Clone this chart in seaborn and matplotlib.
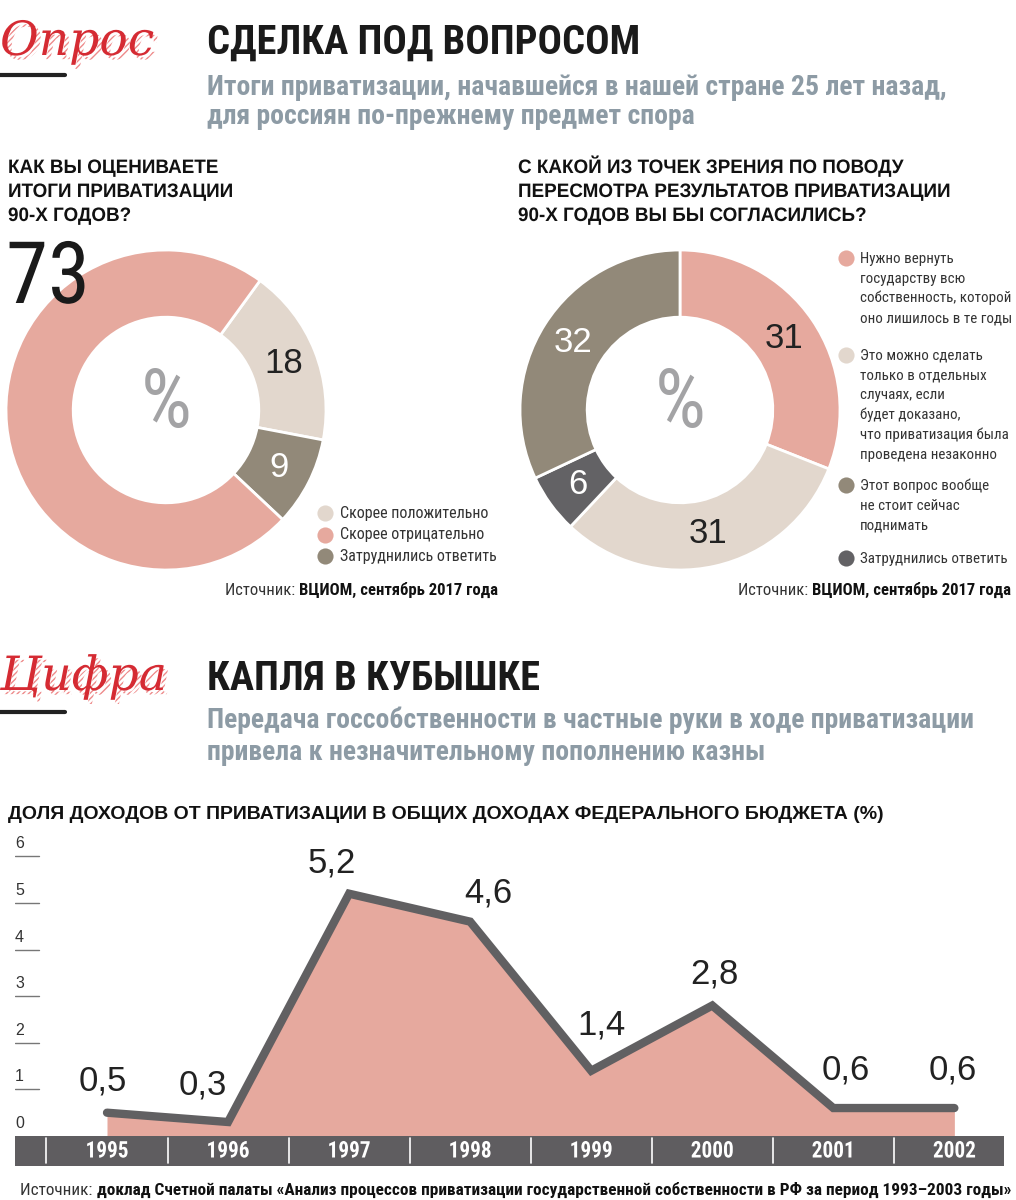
import numpy as np
import pandas as pd
import seaborn as sns
import matplotlib.pyplot as plt
from matplotlib import patheffects as pe
from matplotlib import font_manager
from matplotlib.text import Text
from matplotlib.transforms import Affine2D, Bbox

# ---- data ----
q1_labels = ["Скорее положительно", "Скорее отрицательно", "Затруднились ответить"]
q1_values = [18, 73, 9]

q2_labels = [
    ["Нужно вернуть", "государству всю", "собственность, которой", "оно лишилось в те годы"],
    ["Это можно сделать", "только в отдельных", "случаях, если", "будет доказано,",
     "что приватизация была", "проведена незаконно"],
    ["Этот вопрос вообще", "не стоит сейчас", "поднимать"],
    ["Затруднились ответить"],
]
q2_values = [31, 31, 32, 6]

years = [1995, 1996, 1997, 1998, 1999, 2000, 2001, 2002]
share = [0.5, 0.3, 5.2, 4.6, 1.4, 2.8, 0.6, 0.6]
y_ticks = [0, 1, 2, 3, 4, 5, 6]

# ---- style ----
PINK = "#e6a99e"
BEIGE = "#e2d7cd"
BROWN = "#928979"
DARK = "#636265"
LINE = "#616062"
GREY_TXT = "#8d9ba5"
RED = "#d52b33"
TXT = "#222222"

sns.set_theme(style="white")
SANS = ["Liberation Sans", "DejaVu Sans"]
plt.rcParams["font.family"] = SANS
installed = {f.name for f in font_manager.fontManager.ttflist}
NARROW = (["Roboto Condensed"] if "Roboto Condensed" in installed else []) + SANS

W, H = 1016, 1200
fig = plt.figure(figsize=(W / 100, H / 100), dpi=100)
fig.patch.set_facecolor("white")

ANCHOR = {"left": 0.0, "center": 0.5, "right": 1.0}


class Squeeze(pe.AbstractPathEffect):
    """Draw text horizontally condensed to the width of the original."""

    def __init__(self, sx, anchor=0.0):
        super().__init__()
        self.sx, self.anchor = sx, anchor

    def draw_path(self, renderer, gc, tpath, affine, rgbFace=None):
        ext = tpath.get_extents()
        cx = 0 if self.anchor == 0 else ext.x0 + self.anchor * ext.width
        tr = Affine2D().translate(-cx, 0).scale(self.sx, 1).translate(cx, 0) + affine
        renderer.draw_path(gc, tpath, tr, rgbFace)


class NarrowText(Text):
    def __init__(self, x, y, s, sx=1.0, **kw):
        super().__init__(x, y, s, **kw)
        self.sx = sx
        if abs(sx - 1) > 0.01:
            self.set_path_effects([Squeeze(sx, ANCHOR[self.get_horizontalalignment()])])

    def get_window_extent(self, renderer=None, dpi=None):
        bb = super().get_window_extent(renderer, dpi)
        a = ANCHOR[self.get_horizontalalignment()]
        xa = bb.x0 + a * bb.width
        return Bbox([[xa - a * bb.width * self.sx, bb.y0],
                     [xa + (1 - a) * bb.width * self.sx, bb.y1]])


def put(target, x, y, s, sx=1.0, ha="left", va="baseline", **kw):
    t = NarrowText(x, y, s, sx=sx, ha=ha, va=va, **kw)
    target.add_artist(t)
    return t


def box(x0, y0, x1, y1):
    return [x0 / W, 1 - y1 / H, (x1 - x0) / W, (y1 - y0) / H]


# ---- texts layer (pixel coordinates) ----
bg = fig.add_axes([0, 0, 1, 1], zorder=10)
bg.set_xlim(0, W)
bg.set_ylim(H, 0)
bg.axis("off")
rend = fig.canvas.get_renderer()


def width_of(s, **kw):
    t = bg.text(0, 0, s, **kw)
    w = t.get_window_extent(rend).width
    t.remove()
    return w


def fit(s, target, **kw):
    return target / width_of(s, **kw)


def sized(style, s, target):
    # shrink the font (not the glyphs) so the line keeps inside its width
    st = dict(style)
    st["fontsize"] = style["fontsize"] * min(1.0, fit(s, target, **style))
    return st


# ---- donuts ----
def donut(rect, values, colors, order, start, label_colors, hide=()):
    ax = fig.add_axes(rect)
    vals = [values[i] for i in order]
    cols = [colors[i] for i in order]
    wedges, _, autotexts = ax.pie(
        vals, colors=cols, startangle=start, counterclock=False,
        autopct=lambda p: f"{round(p)}", pctdistance=0.79,
        wedgeprops=dict(width=0.42, edgecolor="white", linewidth=2),
        textprops=dict(fontsize=25),
    )
    for t, i in zip(autotexts, order):
        t.set_color(label_colors[i])
        if i in hide:
            t.set_visible(False)
    ax.set_xlim(-1, 1)
    ax.set_ylim(-1, 1)
    pct = dict(fontsize=58, color="#a3a3a5", family=NARROW)
    put(ax, 0, 0.03, "%", min(1.0, fit("%", 58, **pct)), ha="center", va="center", **pct)
    return ax


q1_colors = [BEIGE, PINK, BROWN]
donut(box(6, 250, 326, 570), q1_values, q1_colors, [0, 2, 1], 54,
      [TXT, TXT, "white"], hide=(1,))

q2_colors = [PINK, BEIGE, BROWN, DARK]
donut(box(520, 250, 840, 570), q2_values, q2_colors, [0, 1, 3, 2], 90,
      [TXT, TXT, "white", "white"])

# ---- area / line chart ----
ax = fig.add_axes(box(15, 830, 1004, 1166))
df = pd.DataFrame({"year": years, "share": share})
ymin, ymax = -0.644, 6.567
ax.fill_between(df["year"], 0, df["share"], color=PINK, lw=0, zorder=1)
sns.lineplot(data=df, x="year", y="share", color=LINE, linewidth=6,
             solid_capstyle="round", solid_joinstyle="miter", ax=ax, zorder=3)
ax.set_xlim(1994.24, 2002.41)
ax.set_ylim(ymin, ymax)
ax.axis("off")
ax.axhspan(ymin, 0, color="#5f5d60", lw=0, zorder=2)
YEAR = dict(fontsize=16.5, fontweight="bold", color="white", family=NARROW)
sx_y = min(1.0, fit("1995", 43, **YEAR))
for yr in years:
    ax.plot([yr - 0.5, yr - 0.5], [ymin + 0.06, -0.04], color="white", lw=1.2, zorder=4)
    put(ax, yr, ymin / 2, str(yr), sx_y, ha="center", va="center", zorder=5, **YEAR)

ytr = ax.get_yaxis_transform()
for v in y_ticks:
    ax.annotate(str(v), (0.0, v), xycoords=ytr, xytext=(0, 5),
                textcoords="offset pixels", ha="left", va="bottom",
                fontsize=11.5, color="#333333", annotation_clip=False)
    if v > 0:
        ax.plot([0.0, 0.024], [v, v], transform=ytr, color="#777777", lw=1)

label_offsets = [(-4, 32), (-25, 37), (-17, 31), (18, 29), (10, 46), (2, 32), (12, 38), (-2, 38)]
for yr, v, (dx, dy) in zip(years, share, label_offsets):
    ax.annotate(f"{v:.1f}".replace(".", ","), (yr, v), xytext=(dx, dy),
                textcoords="offset pixels", ha="center", va="center",
                fontsize=25, color=TXT, zorder=6)

# ---- headers, legends, sources ----
TITLE = dict(fontsize=30, fontweight="bold", color="#1a1a1a", family=NARROW)
SUB = dict(fontsize=20, fontweight="bold", color=GREY_TXT, family=NARROW)
LEG = dict(fontsize=12.5, color="#333333", family=NARROW)
RLEG = dict(fontsize=12, color="#333333", family=NARROW)
QUEST = dict(fontsize=14, fontweight="bold", color="#111111")

logo_fx = [pe.PathPatchEffect(offset=(3, -3), hatch="//////", facecolor="none",
                              edgecolor="#ee8a8a", linewidth=0), pe.Normal()]
bg.text(0, 55, "Опрос", fontsize=34, family="DejaVu Serif", style="italic",
        color=RED, va="baseline", path_effects=logo_fx)
bg.plot([0, 65], [75, 75], color="#222222", lw=3)
bg.text(0, 690, "Цифра", fontsize=34, family="DejaVu Serif", style="italic",
        color=RED, va="baseline", path_effects=logo_fx)
bg.plot([0, 65], [712, 712], color="#222222", lw=3)

TITLE = sized(TITLE, "СДЕЛКА ПОД ВОПРОСОМ", 433)
sx_t = min(1.0, fit("СДЕЛКА ПОД ВОПРОСОМ", 433, **TITLE))
put(bg, 207, 54, "СДЕЛКА ПОД ВОПРОСОМ", sx_t, **TITLE)
sub1 = "Итоги приватизации, начавшейся в нашей стране 25 лет назад,"
SUB = sized(SUB, sub1, 748)
put(bg, 207, 95, sub1, **SUB)
put(bg, 207, 124, "для россиян по-прежнему предмет спора", **SUB)

put(bg, 207, 690, "КАПЛЯ В КУБЫШКЕ", sx_t, **TITLE)
put(bg, 207, 728, "Передача госсобственности в частные руки в ходе приватизации", **SUB)
put(bg, 207, 760, "привела к незначительному пополнению казны", **SUB)

for i, line in enumerate(["КАК ВЫ ОЦЕНИВАЕТЕ", "ИТОГИ ПРИВАТИЗАЦИИ", "90-Х ГОДОВ?"]):
    put(bg, 8, 173 + 24 * i, line, 0.97, **QUEST)
for i, line in enumerate(["С КАКОЙ ИЗ ТОЧЕК ЗРЕНИЯ ПО ПОВОДУ",
                          "ПЕРЕСМОТРА РЕЗУЛЬТАТОВ ПРИВАТИЗАЦИИ",
                          "90-Х ГОДОВ ВЫ БЫ СОГЛАСИЛИСЬ?"]):
    put(bg, 518, 173 + 24 * i, line, 0.97, **QUEST)

BIG = dict(fontsize=62, color="#1a1a1a", family=NARROW)
put(bg, 6, 303, str(q1_values[1]), min(1.0, fit(str(q1_values[1]), 84, **BIG)), **BIG)

LEG = sized(LEG, "Затруднились ответить", 157)
for i, (lab, col) in enumerate(zip(q1_labels, q1_colors)):
    y = 513 + 21.5 * i
    bg.scatter([325], [y], s=135, color=col, lw=0)
    put(bg, 340, y + 5, lab, **LEG)

RLEG = sized(RLEG, "собственность, которой", 150)
legend_y = [258, 355, 485, 558]
for lines, col, y0 in zip(q2_labels, q2_colors, legend_y):
    bg.scatter([846], [y0], s=135, color=col, lw=0)
    for j, line in enumerate(lines):
        put(bg, 860, y0 + 5 + 19.7 * j, line, **RLEG)


def source(x_right, y, bold_part, size, width):
    norm = dict(fontsize=size, color="#333333", family=NARROW)
    bold = dict(fontsize=size, fontweight="bold", color="#111111", family=NARROW)
    w1 = width_of("Источник: ", **norm)
    w2 = width_of(bold_part, **bold)
    k = min(1.0, width / (w1 + w2))
    norm["fontsize"] = bold["fontsize"] = size * k
    x0 = x_right - (w1 + w2) * k
    put(bg, x0, y, "Источник: ", **norm)
    put(bg, x0 + w1 * k, y, bold_part, **bold)


source(497, 595, "ВЦИОМ, сентябрь 2017 года", 12.5, 272)
source(1010, 595, "ВЦИОМ, сентябрь 2017 года", 12.5, 272)

put(bg, 8, 819, "ДОЛЯ ДОХОДОВ ОТ ПРИВАТИЗАЦИИ В ОБЩИХ ДОХОДАХ ФЕДЕРАЛЬНОГО БЮДЖЕТА (%)",
    0.995, fontsize=14, fontweight="bold", color="#111111")

source(1010, 1195, "доклад Счетной палаты «Анализ процессов приватизации "
       "государственной собственности в РФ за период 1993–2003 годы»", 12.5, 990)

fig.savefig("out.png", dpi=100, facecolor="white")
